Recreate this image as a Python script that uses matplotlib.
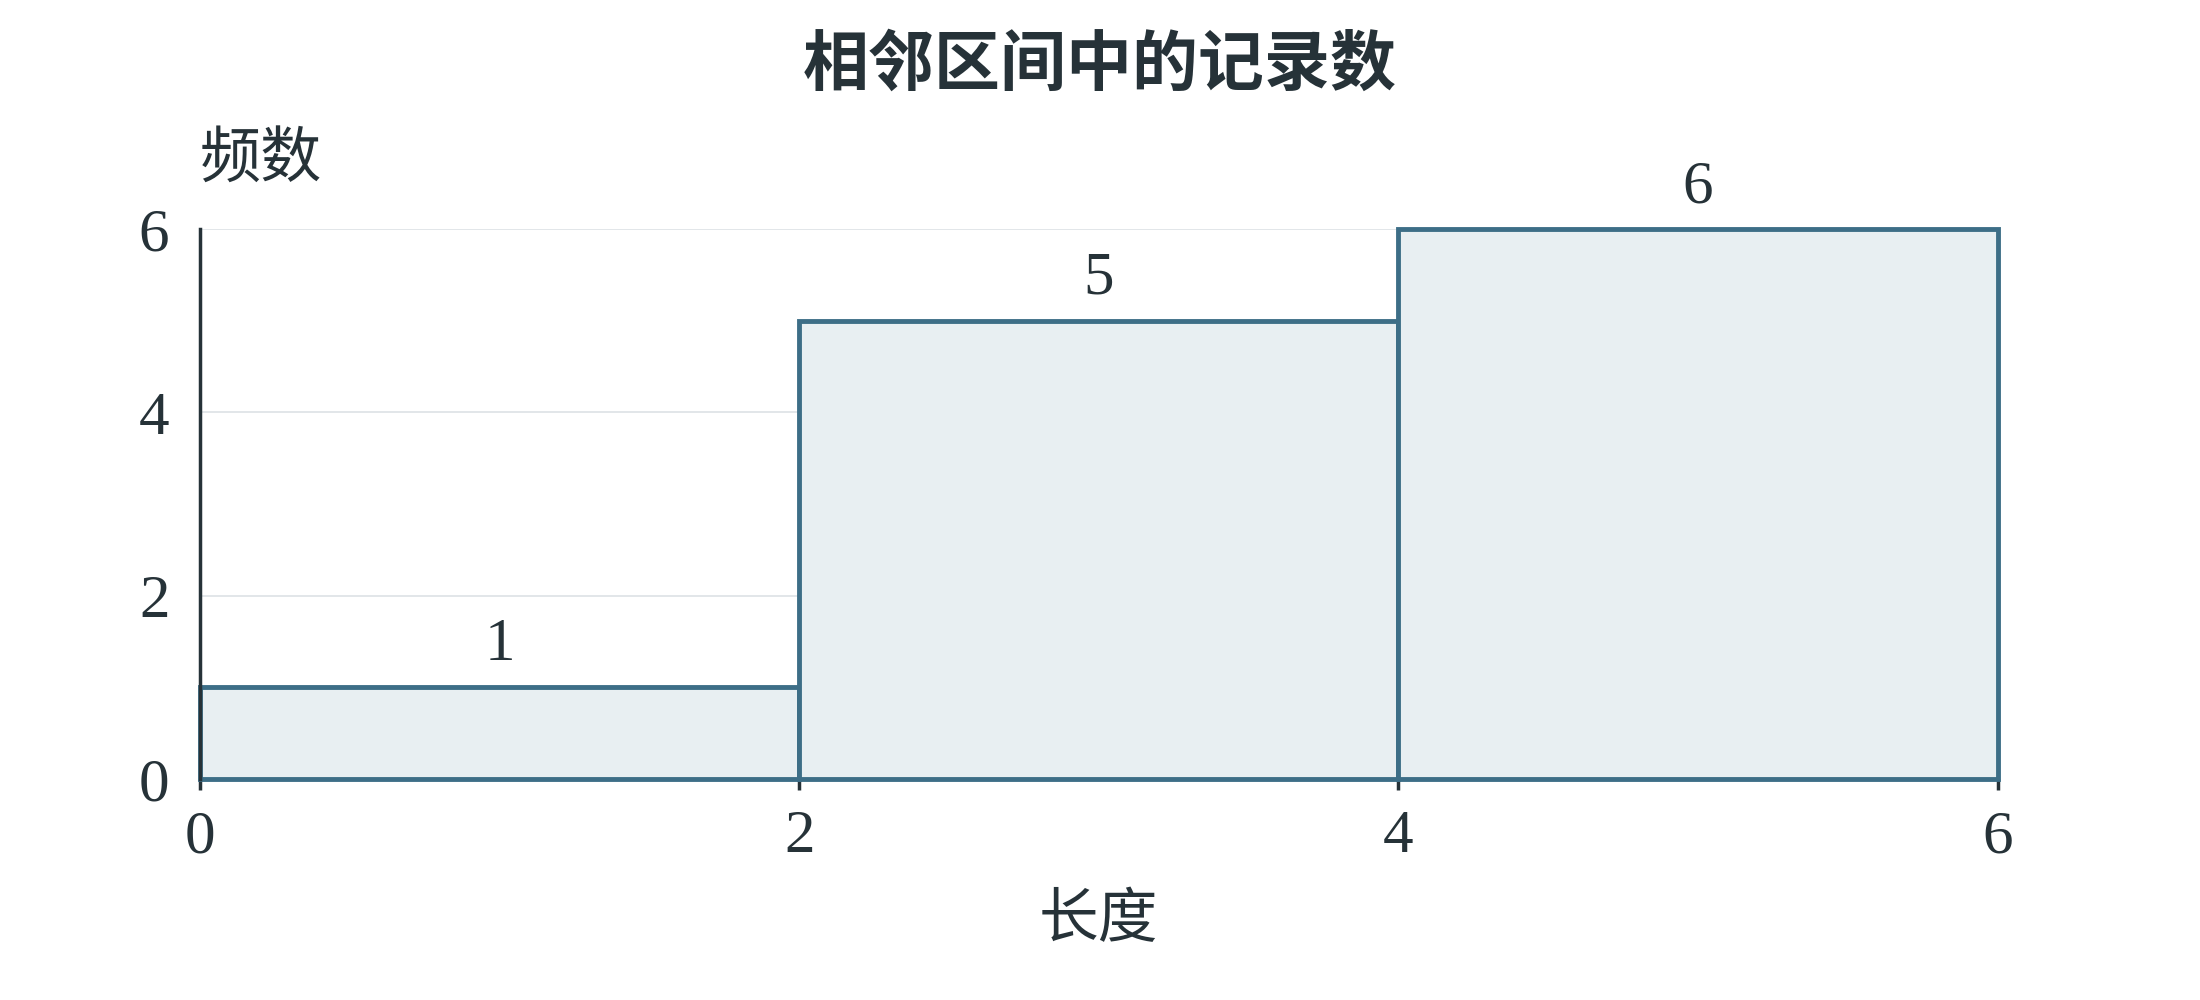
import matplotlib.pyplot as plt
import numpy as np

plt.rcParams['font.family'] = ['Liberation Serif', 'Noto Sans CJK SC', 'DejaVu Sans']

# 数据
bin_edges = [0, 2, 4, 6]
counts = [1, 5, 6]
y_ticks = [0, 2, 4, 6]
title = '相邻区间中的记录数'
x_label = '长度'
y_label = '频数'

text_color = '#263238'
edge_color = '#3d6e87'
fill_color = '#e8eff2'
grid_color = '#dde2e5'

fig = plt.figure(figsize=(22, 10), dpi=100)
ax = fig.add_axes([0.0909, 0.221, 0.8171, 0.55])

lefts = np.array(bin_edges[:-1])
widths = np.diff(bin_edges)
bars = ax.bar(lefts, counts, width=widths, align='edge', color=fill_color,
              edgecolor=edge_color, linewidth=3.5, zorder=3)
for b in bars:
    b.set_clip_on(False)  # 边框不要被坐标轴裁掉一半

for b, c in zip(bars, counts):
    ax.annotate(str(c), (b.get_x() + b.get_width() / 2, b.get_height()),
                xytext=(0, 10), textcoords='offset points', ha='center', va='bottom',
                fontsize=44, color=text_color)

ax.set_xlim(bin_edges[0], bin_edges[-1])
ax.set_ylim(0, max(y_ticks))
ax.set_xticks(bin_edges)
ax.set_yticks(y_ticks)
ax.yaxis.grid(True, color=grid_color, linewidth=1.2, zorder=0)
ax.set_axisbelow(True)

for s in ['top', 'right', 'bottom']:
    ax.spines[s].set_visible(False)
ax.spines['left'].set_color(text_color)
ax.spines['left'].set_linewidth(2.5)
ax.spines['left'].set_zorder(4)

ax.tick_params(axis='y', length=0, pad=22, labelsize=44, labelcolor=text_color)
ax.tick_params(axis='x', length=8, width=2.5, color=text_color, pad=14,
               labelsize=44, labelcolor=text_color)

ax.set_xlabel(x_label, fontsize=43, color=text_color, family=['Noto Sans CJK SC'], labelpad=18)
ax.text(0.0, 1.07, y_label, transform=ax.transAxes, fontsize=44, color=text_color,
        family=['Noto Sans CJK SC'], ha='left', va='bottom')

fig.suptitle(title, x=0.5, y=0.968, fontsize=47.5, fontweight='bold', color=text_color,
             family=['Noto Sans CJK SC'], va='top')

fig.savefig('out.png', dpi=100, facecolor='white')
